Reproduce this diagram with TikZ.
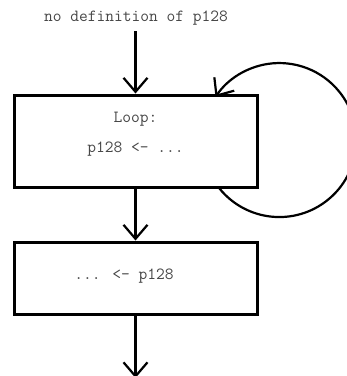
\documentclass[tikz,border=0pt]{standalone}
\usepackage{fontspec}
\usetikzlibrary{arrows.meta}
\definecolor{txtgray}{RGB}{70,70,70}
\tikzset{
  blk/.style={draw=black, line width=3pt, minimum width=243pt, inner sep=0pt, fill=white},
  lbl/.style={font=\ttfamily\fontsize{17}{17}\selectfont, text=txtgray, anchor=base, inner sep=0pt},
  flow/.style={line width=2.2pt, -{Straight Barb[length=14pt,width=24pt,line width=2.2pt]}}
}
\begin{document}
\begin{tikzpicture}[x=1pt,y=-1pt]
\useasboundingbox (0,0) rectangle (347,376);
\clip (0,0) rectangle (347,376);
\node[blk, minimum height=92pt] (box1) at (135.5,141) {};
\node[blk, minimum height=72pt] (box2) at (135.5,278) {};
\node[lbl] (src) at (136,21) {no definition of p128};
\node[lbl] (loop) at (135.5,122.5) {Loop:};
\node[lbl] (def) at (135.5,152.5) {p128 <- ...};
\node[lbl] (use) at (124,279) {... <- p128};
\coordinate (a0) at (135.5,31);
\coordinate (a3) at (135.5,378);
\draw[flow] (a0) -- (box1.north);
\draw[flow] (box1.south) -- (box2.north);
\draw[flow] (box2.south) -- (a3);
\coordinate (ls) at ([xshift=-39pt]box1.south east);
\draw[flow] (ls) arc[start angle=141, end angle=-146, radius=77];
\end{tikzpicture}
\end{document}
